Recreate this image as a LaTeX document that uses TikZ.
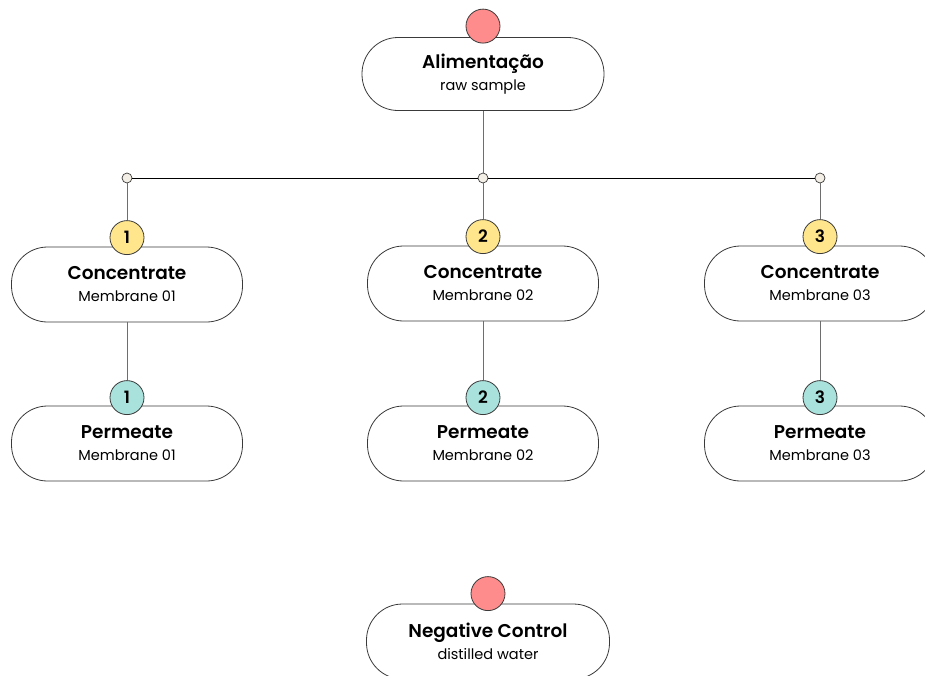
\documentclass[tikz,border=0pt]{standalone}
\usepackage{fontspec}
\setmainfont{Poppins}[BoldFont={Poppins SemiBold}]
\usepackage{xcolor}
\usepackage{tikz}
\usetikzlibrary{positioning}
\definecolor{feedred}{HTML}{FF8C8C}
\definecolor{concyellow}{HTML}{FFE68C}
\definecolor{permteal}{HTML}{A9E2DC}
\definecolor{jointcream}{HTML}{F4EFE6}
\definecolor{edgegrey}{HTML}{6E6E6E}
\definecolor{boxline}{HTML}{3A3A3A}
\newcommand{\StageText}[2]{{\fontsize{18.5}{22}\selectfont\bfseries #1}\\{#2}}

\begin{document}
\begin{tikzpicture}[x=1pt,y=-1pt,
    stage/.style={draw=boxline,line width=0.8pt,rounded corners=36pt,fill=white,
                  minimum width=231pt,minimum height=75pt,align=center,inner sep=0pt,
                  font=\fontsize{14.5}{22}\selectfont},
    dot/.style={circle,draw=boxline,line width=0.8pt,minimum size=34pt,inner sep=0pt,
                font=\fontsize{17}{17}\selectfont\bfseries},
    joint/.style={circle,draw=boxline,fill=jointcream,line width=0.7pt,
                  minimum size=10pt,inner sep=0pt},
    link/.style={edgegrey,line width=1pt},
    bus/.style={black,line width=1pt},
  ]
    \useasboundingbox (0,0) rectangle (925,675);

    \node[stage,minimum width=242pt,minimum height=73pt] (feed) at (483,74) {\StageText{Alimentação}{raw sample}};
    \node[dot,fill=feedred] (feeddot) at ([yshift=11pt]feed.north) {};

    \node[joint] (j1) at (127,178) {};
    \node[joint] (j2) at (483,178) {};
    \node[joint] (j3) at (820,178) {};

    \node[stage] (conc1) at (127,284.5) {\StageText{Concentrate}{Membrane 01}};
    \node[stage] (conc2) at (483,283.5) {\StageText{Concentrate}{Membrane 02}};
    \node[stage] (conc3) at (820,283.5) {\StageText{Concentrate}{Membrane 03}};
    \node[dot,fill=concyellow] (cdot1) at ([yshift=9pt]conc1.north) {1};
    \node[dot,fill=concyellow] (cdot2) at ([yshift=9pt]conc2.north) {2};
    \node[dot,fill=concyellow] (cdot3) at ([yshift=9pt]conc3.north) {3};

    \node[stage] (perm1) at (127,443.5) {\StageText{Permeate}{Membrane 01}};
    \node[stage] (perm2) at (483,443.5) {\StageText{Permeate}{Membrane 02}};
    \node[stage] (perm3) at (820,443.5) {\StageText{Permeate}{Membrane 03}};
    \node[dot,fill=permteal] (pdot1) at ([yshift=8pt]perm1.north) {1};
    \node[dot,fill=permteal] (pdot2) at ([yshift=8pt]perm2.north) {2};
    \node[dot,fill=permteal] (pdot3) at ([yshift=8pt]perm3.north) {3};

    \node[stage,minimum width=243pt] (negctrl) at (488,641.5) {\StageText{Negative Control}{distilled water}};
    \node[dot,fill=feedred] (negdot) at ([yshift=10pt]negctrl.north) {};

    \draw[link] (feed) -- (j2);
    \draw[bus] (j1) -- (j2);
    \draw[bus] (j2) -- (j3);
    \draw[link] (j1) -- (cdot1);
    \draw[link] (j2) -- (cdot2);
    \draw[link] (j3) -- (cdot3);
    \draw[link] (conc1) -- (pdot1);
    \draw[link] (conc2) -- (pdot2);
    \draw[link] (conc3) -- (pdot3);
  \end{tikzpicture}
\end{document}
